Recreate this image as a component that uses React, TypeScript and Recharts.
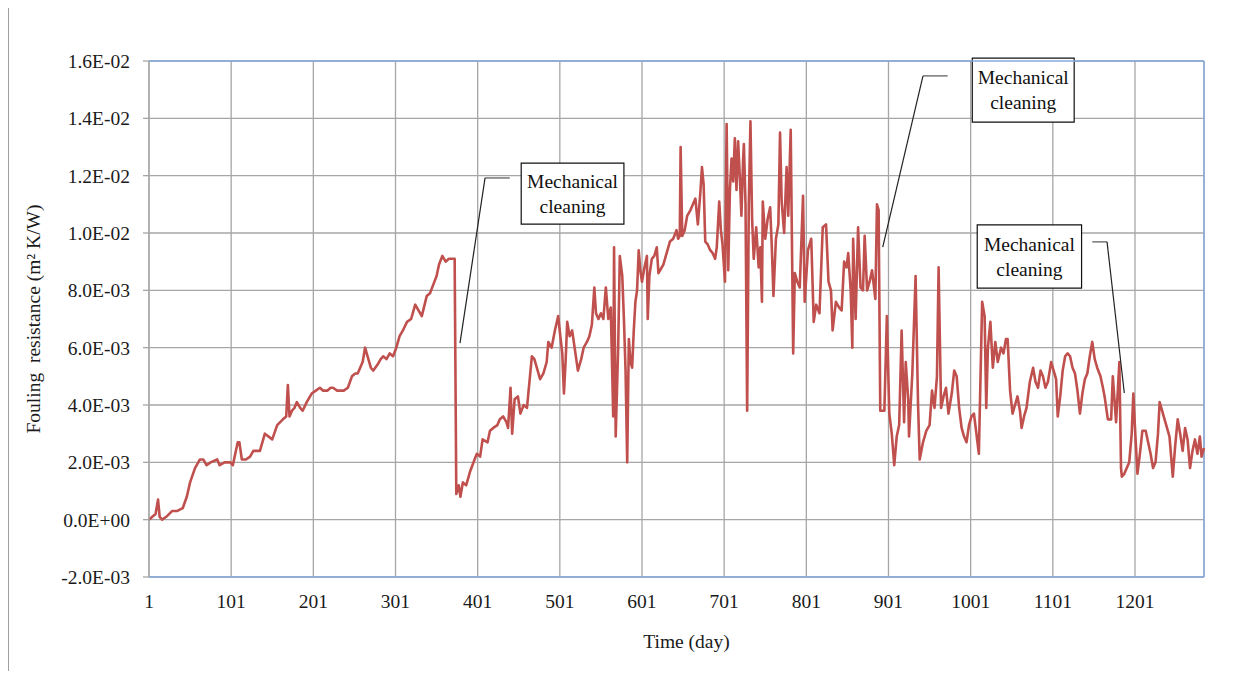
import React from 'react';
import {
  LineChart,
  Line,
  XAxis,
  YAxis,
  CartesianGrid,
  ReferenceLine,
  ReferenceArea,
  Customized,
} from 'recharts';

// split at the mechanical cleanings
const days1 = [1, 5, 9, 12, 14, 17, 22, 29, 35, 42, 47, 51, 57, 63, 67, 71, 76, 84, 87, 93, 100, 103, 109, 111, 114, 119, 124, 128, 136, 142, 151, 157, 164, 168, 170, 172, 175, 178, 181, 185, 188, 193, 199, 204, 209, 213, 218, 222, 225, 230, 233, 238, 243, 248, 252, 255, 258, 261, 264, 268, 271, 274, 279, 283, 286, 290, 294, 298, 302, 306, 310, 315, 320, 325, 329, 333, 339, 343, 347, 351, 354, 358, 362, 366, 373];
const fouling1 = [0.0000, 0.0001, 0.0002, 0.0007, 0.0001, 0.0000, 0.0001, 0.0003, 0.0003, 0.0004, 0.0008, 0.0013, 0.0018, 0.0021, 0.0021, 0.0019, 0.0020, 0.0021, 0.0019, 0.0020, 0.0020, 0.0019, 0.0027, 0.0027, 0.0021, 0.0021, 0.0022, 0.0024, 0.0024, 0.0030, 0.0028, 0.0033, 0.0035, 0.0036, 0.0047, 0.0036, 0.0038, 0.0039, 0.0041, 0.0039, 0.0038, 0.0041, 0.0044, 0.0045, 0.0046, 0.0045, 0.0045, 0.0046, 0.0046, 0.0045, 0.0045, 0.0045, 0.0046, 0.0050, 0.0051, 0.0051, 0.0053, 0.0055, 0.0060, 0.0056, 0.0053, 0.0052, 0.0054, 0.0056, 0.0057, 0.0056, 0.0058, 0.0057, 0.0060, 0.0064, 0.0066, 0.0069, 0.0070, 0.0075, 0.0073, 0.0071, 0.0078, 0.0079, 0.0082, 0.0085, 0.0089, 0.0092, 0.0090, 0.0091, 0.0091];

const days2 = [375, 378, 380, 383, 387, 392, 396, 400, 404, 407, 413, 416, 420, 425, 428, 432, 436, 438, 441, 443, 446, 450, 453, 457, 461, 464, 467, 470, 473, 477, 481, 485, 487, 491, 495, 499, 502, 504, 506, 508, 510, 513, 516, 520, 523, 527, 530, 534, 537, 540, 543, 545, 548, 551, 554, 557, 560, 563, 566, 567, 569, 572, 574, 577, 579, 581, 583, 585, 587, 589, 591, 593, 595, 597, 599, 601, 604, 607, 608, 610, 613, 616, 619, 621, 623, 627, 631, 635, 639, 643, 645, 647, 648, 650, 653, 656, 660, 663, 666, 669, 672, 674, 676, 678, 681, 684, 687, 690, 692, 695, 697, 699, 702, 704, 706, 708, 710, 712, 714, 716, 718, 720, 722, 724, 725, 727, 729, 731, 733, 735, 737, 740, 743, 745, 747, 748, 751, 754, 757, 759, 761, 764, 767, 769, 771, 774, 777, 779, 782, 785, 787, 790, 793, 797, 799, 803, 807, 810, 813, 817, 821, 825, 828, 831, 833, 837, 841, 844, 847, 850, 852, 855, 857, 858, 861, 864, 867, 870, 872, 875, 878, 881, 883, 885, 887, 889];
const fouling2 = [0.0009, 0.0012, 0.0008, 0.0013, 0.0012, 0.0017, 0.0020, 0.0023, 0.0022, 0.0028, 0.0027, 0.0031, 0.0032, 0.0033, 0.0035, 0.0036, 0.0034, 0.0032, 0.0046, 0.0030, 0.0042, 0.0043, 0.0037, 0.0040, 0.0039, 0.0048, 0.0057, 0.0056, 0.0053, 0.0049, 0.0051, 0.0055, 0.0062, 0.0060, 0.0066, 0.0071, 0.0063, 0.0058, 0.0044, 0.0055, 0.0069, 0.0064, 0.0066, 0.0058, 0.0052, 0.0056, 0.0060, 0.0062, 0.0064, 0.0068, 0.0081, 0.0072, 0.0070, 0.0072, 0.0070, 0.0081, 0.0070, 0.0074, 0.0036, 0.0095, 0.0029, 0.0060, 0.0092, 0.0085, 0.0070, 0.0052, 0.0020, 0.0063, 0.0055, 0.0053, 0.0066, 0.0076, 0.0080, 0.0094, 0.0087, 0.0083, 0.0088, 0.0092, 0.0070, 0.0085, 0.0091, 0.0092, 0.0095, 0.0086, 0.0087, 0.0089, 0.0093, 0.0097, 0.0098, 0.0101, 0.0098, 0.0099, 0.0130, 0.0099, 0.0101, 0.0106, 0.0108, 0.0110, 0.0112, 0.0103, 0.0114, 0.0123, 0.0117, 0.0097, 0.0096, 0.0094, 0.0093, 0.0091, 0.0095, 0.0111, 0.0101, 0.0096, 0.0083, 0.0138, 0.0087, 0.0115, 0.0126, 0.0118, 0.0133, 0.0115, 0.0132, 0.0120, 0.0106, 0.0125, 0.0131, 0.0110, 0.0038, 0.0110, 0.0139, 0.0105, 0.0091, 0.0102, 0.0088, 0.0095, 0.0076, 0.0111, 0.0098, 0.0105, 0.0109, 0.0095, 0.0078, 0.0098, 0.0103, 0.0135, 0.0111, 0.0100, 0.0123, 0.0106, 0.0136, 0.0058, 0.0086, 0.0083, 0.0081, 0.0113, 0.0076, 0.0094, 0.0098, 0.0069, 0.0075, 0.0072, 0.0102, 0.0103, 0.0083, 0.0080, 0.0066, 0.0076, 0.0074, 0.0073, 0.0090, 0.0088, 0.0093, 0.0080, 0.0060, 0.0098, 0.0070, 0.0102, 0.0081, 0.0080, 0.0099, 0.0080, 0.0083, 0.0087, 0.0082, 0.0077, 0.0110, 0.0108];

const days3 = [891, 893, 896, 899, 902, 905, 908, 911, 914, 917, 920, 922, 925, 926, 930, 934, 937, 939, 943, 947, 951, 954, 957, 960, 962, 965, 968, 971, 974, 978, 981, 984, 987, 990, 993, 996, 999, 1002, 1005, 1008, 1011, 1015, 1018, 1020, 1022, 1025, 1028, 1031, 1034, 1038, 1041, 1044, 1046, 1049, 1052, 1055, 1058, 1061, 1063, 1066, 1069, 1073, 1077, 1080, 1083, 1086, 1089, 1092, 1095, 1099, 1102, 1105, 1107, 1110, 1113, 1116, 1119, 1122, 1125, 1128, 1131, 1134, 1137, 1140, 1143, 1146, 1149, 1152, 1155, 1159, 1162, 1164, 1168, 1172, 1174, 1178, 1182];
const fouling3 = [0.0038, 0.0038, 0.0038, 0.0071, 0.0037, 0.0030, 0.0019, 0.0029, 0.0033, 0.0066, 0.0034, 0.0055, 0.0042, 0.0029, 0.0051, 0.0085, 0.0040, 0.0021, 0.0027, 0.0031, 0.0033, 0.0045, 0.0039, 0.0050, 0.0088, 0.0039, 0.0043, 0.0046, 0.0037, 0.0044, 0.0052, 0.0050, 0.0039, 0.0032, 0.0029, 0.0027, 0.0033, 0.0036, 0.0037, 0.0030, 0.0023, 0.0076, 0.0071, 0.0039, 0.0060, 0.0069, 0.0053, 0.0062, 0.0055, 0.0060, 0.0058, 0.0063, 0.0063, 0.0045, 0.0037, 0.0040, 0.0043, 0.0038, 0.0032, 0.0036, 0.0039, 0.0048, 0.0053, 0.0048, 0.0046, 0.0052, 0.0050, 0.0046, 0.0048, 0.0055, 0.0052, 0.0049, 0.0036, 0.0043, 0.0052, 0.0057, 0.0058, 0.0057, 0.0053, 0.0051, 0.0045, 0.0037, 0.0044, 0.0049, 0.0051, 0.0057, 0.0062, 0.0056, 0.0053, 0.0050, 0.0046, 0.0043, 0.0035, 0.0035, 0.0050, 0.0034, 0.0055];

const days4 = [1184, 1185, 1188, 1191, 1194, 1197, 1199, 1201, 1204, 1207, 1210, 1214, 1217, 1220, 1223, 1226, 1229, 1231, 1234, 1237, 1240, 1243, 1247, 1250, 1253, 1256, 1259, 1262, 1265, 1268, 1271, 1274, 1277, 1280, 1282, 1285];
const fouling4 = [0.0018, 0.0015, 0.0016, 0.0018, 0.0020, 0.0030, 0.0044, 0.0032, 0.0016, 0.0023, 0.0031, 0.0031, 0.0027, 0.0023, 0.0018, 0.0020, 0.0030, 0.0041, 0.0038, 0.0035, 0.0032, 0.0029, 0.0015, 0.0026, 0.0035, 0.0030, 0.0024, 0.0032, 0.0028, 0.0018, 0.0024, 0.0028, 0.0023, 0.0029, 0.0022, 0.0025];

const dayTicks = [1, 101, 201, 301, 401, 501, 601, 701, 801, 901, 1001, 1101, 1201];
const resistanceTicks = [-0.002, 0, 0.002, 0.004, 0.006, 0.008, 0.01, 0.012, 0.014, 0.016];

// callout boxes [x1, x2, y1, y2] and their leader lines, in data units
const cleanings = [
  { box: [454, 579, 0.01031, 0.01244], leader: [[440, 0.01192], [410, 0.01192], [379.5, 0.00616]] },
  { box: [1003, 1127, 0.01387, 0.0161], leader: [[973, 0.01548], [943, 0.01548], [894, 0.00951]] },
  { box: [1009, 1136, 0.00808, 0.01028], leader: [[1149, 0.00969], [1167, 0.00969], [1188, 0.00442]] },
];

const data = [
  ...days1.map((d, i) => ({ day: d, value: fouling1[i] })),
  ...days2.map((d, i) => ({ day: d, value: fouling2[i] })),
  ...days3.map((d, i) => ({ day: d, value: fouling3[i] })),
  ...days4.map((d, i) => ({ day: d, value: fouling4[i] })),
];

const FONT = '"Liberation Serif", "Times New Roman", serif';
const BLUE = '#86aadc';
const GRID = '#a6a6a6';

function sci(v: number): string {
  if (Math.abs(v) < 1e-12) return '0.0E+00';
  const e = Math.floor(Math.log10(Math.abs(v)) + 1e-9);
  const m = v / Math.pow(10, e);
  return `${m.toFixed(1)}E${e < 0 ? '-' : '+'}${String(Math.abs(e)).padStart(2, '0')}`;
}

function CalloutText(props: any) {
  const vb = props.viewBox || {};
  const cx = vb.x + vb.width / 2;
  const cy = vb.y + vb.height / 2;
  return (
    <g fontFamily={FONT} fontSize={19.5} fill="#111" textAnchor="middle">
      <text x={cx} y={cy - 12.5} dominantBaseline="central">Mechanical</text>
      <text x={cx} y={cy + 12.5} dominantBaseline="central">cleaning</text>
    </g>
  );
}

function YTitle(props: any) {
  const vb = props.viewBox || {};
  const x = 33;
  const y = vb.y + vb.height / 2;
  return (
    <text x={x} y={y} transform={`rotate(-90 ${x} ${y})`} textAnchor="middle" dominantBaseline="central"
      fontFamily={FONT} fontSize={19.5} fill="#1a1a1a">
      Fouling{'\u00a0'} resistance (m² K/W)
    </text>
  );
}

function XTitle(props: any) {
  const vb = props.viewBox || {};
  const x = vb.x + vb.width / 2 + 10;
  return (
    <text x={x} y={641} textAnchor="middle" dominantBaseline="central" fontFamily={FONT} fontSize={19.5} fill="#1a1a1a">
      Time (day)
    </text>
  );
}

// the picture's outer border (bottom edge runs off the page)
function Frame() {
  return <rect x={7} y={6} width={1229} height={700} fill="none" stroke="#404040" strokeWidth={3} />;
}

export default function App() {
  return (
    <div style={{ position: 'relative', width: 1238, height: 679, margin: -8, background: '#fff' }}>
      <LineChart width={1238} height={679} data={data} margin={{ top: 61, right: 34, bottom: 42, left: 0 }}>
        <CartesianGrid stroke={GRID} strokeWidth={1.3} />
        <XAxis
          dataKey="day"
          type="number"
          domain={[1, 1285]}
          ticks={dayTicks}
          interval={0}
          height={60}
          axisLine={{ stroke: BLUE, strokeWidth: 1.5 }}
          tickLine={false}
          tickSize={0}
          tickMargin={17}
          tick={{ fontFamily: FONT, fontSize: 19.5, fill: '#1a1a1a' }}
          label={<XTitle />}
        />
        <YAxis
          type="number"
          domain={[-0.002, 0.016]}
          ticks={resistanceTicks}
          interval={0}
          width={149}
          tickFormatter={sci}
          axisLine={{ stroke: GRID, strokeWidth: 1.3 }}
          tickLine={{ stroke: GRID, strokeWidth: 1.3 }}
          tickSize={6}
          tickMargin={13}
          tick={{ fontFamily: FONT, fontSize: 19.5, fill: '#1a1a1a' }}
          label={<YTitle />}
        />
        <ReferenceLine y={0.016} stroke={BLUE} strokeWidth={1.5} />
        <ReferenceLine x={1285} stroke={BLUE} strokeWidth={1.5} />
        <Line
          type="linear"
          dataKey="value"
          stroke="#c0504d"
          strokeWidth={2.6}
          strokeLinejoin="round"
          dot={false}
          activeDot={false}
          isAnimationActive={false}
        />
        {cleanings.map((c, i) => (
          <React.Fragment key={i}>
            <ReferenceLine
              segment={[{ x: c.leader[0][0], y: c.leader[0][1] }, { x: c.leader[1][0], y: c.leader[1][1] }]}
              stroke="#555"
              strokeWidth={1.2}
            />
            <ReferenceLine
              segment={[{ x: c.leader[1][0], y: c.leader[1][1] }, { x: c.leader[2][0], y: c.leader[2][1] }]}
              stroke="#222"
              strokeWidth={1.2}
            />
            <ReferenceArea
              x1={c.box[0]}
              x2={c.box[1]}
              y1={c.box[2]}
              y2={c.box[3]}
              ifOverflow="visible"
              fill="#fff"
              fillOpacity={1}
              stroke="#111"
              strokeWidth={1.2}
              label={<CalloutText />}
            />
          </React.Fragment>
        ))}
        <Customized component={<Frame />} />
      </LineChart>
      <div
        style={{
          position: 'absolute',
          left: 5,
          top: 4,
          width: 1229,
          height: 671,
          borderLeft: '3px solid #404040',
          borderTop: '3px solid #404040',
          borderRight: '3px solid #404040',
          zIndex: 5,
          pointerEvents: 'none',
        }}
      />
    </div>
  );
}
